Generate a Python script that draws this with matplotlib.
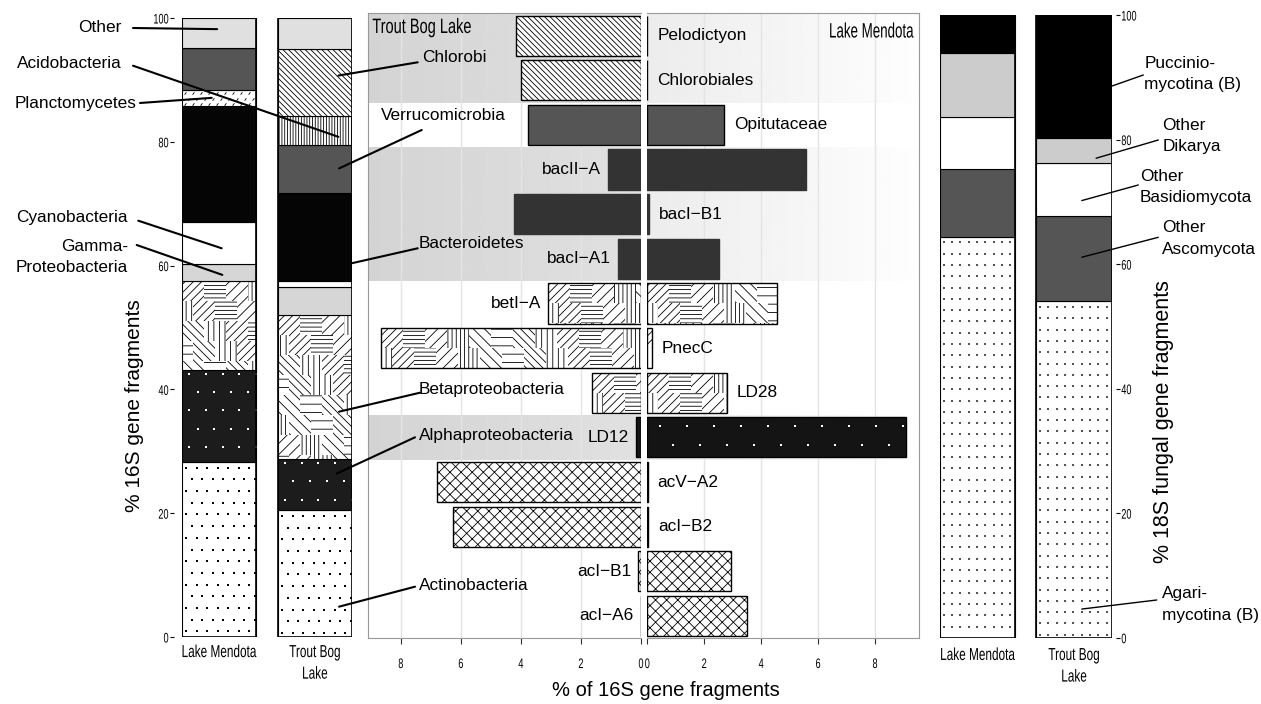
import numpy as np
import matplotlib
matplotlib.use("Agg")
import matplotlib.pyplot as plt
from matplotlib import patheffects
from matplotlib.markers import MarkerStyle
from matplotlib.patches import ConnectionPatch, Rectangle
from matplotlib.transforms import Affine2D, offset_copy

plt.rcParams["font.family"] = ["Liberation Sans", "DejaVu Sans"]
plt.rcParams["hatch.linewidth"] = 0.6

# ------------------------------------------------------------------ data
lakes = ["Lake Mendota", "Trout Bog\nLake"]
pct_ticks = [0, 20, 40, 60, 80, 100]

# 16S phylum composition, bottom to top of each stacked bar (% of fragments)
bact_groups = ["Actinobacteria", "Alphaproteobacteria", "Betaproteobacteria",
               "Gammaproteobacteria", "Cyanobacteria", "Bacteroidetes",
               "Planctomycetes", "Verrucomicrobia", "Acidobacteria",
               "Chlorobi", "Other"]
bact_mendota = [28.3, 14.8, 14.4, 2.7, 6.9, 18.7, 2.5, 6.8, 0.0, 0.0, 4.9]
bact_troutbog = [20.5, 8.2, 23.3, 4.6, 0.9, 14.2, 0.0, 7.8, 4.7, 10.8, 5.0]

# 18S fungal composition, bottom to top
fungal_groups = ["Agaricomycotina", "Other Ascomycota", "Other Basidiomycota",
                 "Other Dikarya", "Pucciniomycotina"]
fungi_mendota = [64.4, 10.9, 8.3, 10.3, 6.1]
fungi_troutbog = [54.0, 13.7, 8.6, 3.9, 19.8]

# freshwater lineages, top to bottom of the middle panel
lineages = ["Pelodictyon", "Chlorobiales", "Opitutaceae", "bacII\u2212A",
            "bacI\u2212B1", "bacI\u2212A1", "betI\u2212A", "PnecC", "LD28", "LD12",
            "acV\u2212A2", "acI\u2212B2", "acI\u2212B1", "acI\u2212A6"]
lineage_phylum = ["Chlorobi", "Chlorobi", "Verrucomicrobia",
                  "Bacteroidetes", "Bacteroidetes", "Bacteroidetes",
                  "Betaproteobacteria", "Betaproteobacteria", "Betaproteobacteria",
                  "Alphaproteobacteria",
                  "Actinobacteria", "Actinobacteria", "Actinobacteria", "Actinobacteria"]
lineage_troutbog = [4.16, 4.00, 3.78, 1.10, 4.22, 0.77, 3.10, 8.65, 1.63, 0.16,
                    6.80, 6.26, 0.09, 0.00]
lineage_mendota = [0.00, 0.00, 2.69, 5.59, 0.05, 2.52, 4.54, 0.15, 2.79, 9.10,
                   0.01, 0.03, 2.93, 3.51]
lineage_ticks = [0, 2, 4, 6, 8]

# ------------------------------------------------------------------ styles
BACK6 = "\\" * 6
bact_style = {
    "Actinobacteria": dict(fc="white", texture="dots"),
    "Alphaproteobacteria": dict(fc="#1c1c1c", texture="white_dots"),
    "Betaproteobacteria": dict(fc="white", texture="beta"),
    "Gammaproteobacteria": dict(fc="#d6d6d6"),
    "Cyanobacteria": dict(fc="white"),
    "Bacteroidetes": dict(fc="#050505"),
    "Planctomycetes": dict(fc="white", texture="dashes"),
    "Verrucomicrobia": dict(fc="#555555"),
    "Acidobacteria": dict(fc="white", hatch="||||||"),
    "Chlorobi": dict(fc="white", hatch=BACK6),
    "Other": dict(fc="#e0e0e0"),
}
fungal_style = {
    "Agaricomycotina": dict(fc="white", texture="fine_dots"),
    "Other Ascomycota": dict(fc="#555555"),
    "Other Basidiomycota": dict(fc="white"),
    "Other Dikarya": dict(fc="#cccccc"),
    "Pucciniomycotina": dict(fc="black"),
}
lineage_style = {
    "Chlorobi": dict(fc="white", ec="black", hatch=BACK6),
    "Verrucomicrobia": dict(fc="#555555", ec="black"),
    "Bacteroidetes": dict(fc="#333333", ec="#333333"),
    "Betaproteobacteria": dict(fc="white", ec="black", texture="beta"),
    "Alphaproteobacteria": dict(fc="#141414", ec="black", texture="white_dots_wide"),
    "Actinobacteria": dict(fc="white", ec="black", hatch="xxx"),
}
# lineage names printed on the Trout Bog side of the middle panel
LEFT_LABELS = {"bacII\u2212A", "bacI\u2212A1", "betI\u2212A", "LD12",
               "acI\u2212B1", "acI\u2212A6"}

LABEL_PT = 12.4                     # callout and lineage names
TICK_PT, TICK_SX = 10, 0.66         # condensed tick numbers

W, H = 1261, 704
fig = plt.figure(figsize=(W / 100, H / 100), dpi=100)


def _squash(text, sx):
    x0, y0 = text.get_transform().transform(text.get_unitless_position())
    rot = text.get_rotation()
    return (Affine2D().translate(-x0, -y0).rotate_deg(-rot)
            .scale(sx, 1.0).rotate_deg(rot).translate(x0, y0))


class Squeeze(patheffects.AbstractPathEffect):
    """Draw a text condensed along its baseline about its anchor point."""

    def __init__(self, text, sx):
        super().__init__()
        self._text = text
        self._sx = sx

    def draw_path(self, renderer, gc, tpath, affine, rgbFace=None):
        renderer.draw_path(gc, tpath, affine + _squash(self._text, self._sx), rgbFace)


def squeeze(text, sx):
    """Condense a text and report the condensed box as its extent."""
    text.set_path_effects([Squeeze(text, sx)])
    full_extent = text.get_window_extent

    def condensed_extent(renderer=None, dpi=None):
        return full_extent(renderer, dpi).transformed(_squash(text, sx))

    text.get_window_extent = condensed_extent
    return text


def axes_px(x0, y0, x1, y1):
    return fig.add_axes([x0 / W, 1 - y1 / H, (x1 - x0) / W, (y1 - y0) / H])


def fig_xy(x, y):
    return (x / W, 1 - y / H)


def ftext(x, y, s, size=LABEL_PT, ha="left", va="center", **kw):
    return fig.text(x / W, 1 - y / H, s, fontsize=size, ha=ha, va=va, **kw)


# ------------------------------------------------------------------ textures
BETA_HATCHES = ["////", "||||", "\\" * 4, "----", "\\" * 3, "|||", "///", "--"]


def beta_texture(ax, patch, tw=22.0, th=20.0):
    bb = patch.get_window_extent()
    inv = ax.transData.inverted()
    j = 0
    y = bb.y1
    while y > bb.y0:
        i = 0
        x = bb.x0 - (tw / 2 if j % 2 else 0)
        while x < bb.x1:
            h = BETA_HATCHES[(3 * i + 5 * j) % len(BETA_HATCHES)]
            (xa, ya), (xb, yb) = inv.transform([(x, y - th), (x + tw, y)])
            r = Rectangle((min(xa, xb), min(ya, yb)), abs(xb - xa), abs(yb - ya),
                          facecolor="none", edgecolor="black", linewidth=0,
                          hatch=h, zorder=patch.get_zorder() + 0.1)
            ax.add_patch(r)
            r.set_clip_path(patch)
            x += tw
            i += 1
        y -= th
        j += 1


def scatter_texture(ax, patch, dx, dy, color, size, marker="s", lw=0.0,
                    stagger=0.5, ox=0.45, oy=0.5):
    bb = patch.get_window_extent()
    pts = []
    j = 0
    y = bb.y1 - oy * dy
    while y > bb.y0:
        x = bb.x0 + (ox + (stagger if j % 2 else 0.0)) * dx
        while x < bb.x1:
            pts.append((x, y))
            x += dx
        y -= dy
        j += 1
    if not pts:
        return
    d = ax.transData.inverted().transform(np.array(pts))
    sc = ax.scatter(d[:, 0], d[:, 1], s=size, marker=marker, c=color,
                    linewidths=lw, zorder=patch.get_zorder() + 0.1)
    sc.set_clip_path(patch)


DASH = MarkerStyle("|", transform=Affine2D().rotate_deg(-35))


def apply_texture(ax, patch, kind):
    if kind == "beta":
        beta_texture(ax, patch)
    elif kind == "dots":
        scatter_texture(ax, patch, 10.5, 11.7, "black", 0.7)
    elif kind == "fine_dots":
        scatter_texture(ax, patch, 8.3, 11.3, "#555555", 1.3, stagger=0.0)
    elif kind == "white_dots":
        scatter_texture(ax, patch, 16.7, 18.3, "white", 2.5, oy=0.2)
    elif kind == "white_dots_wide":
        scatter_texture(ax, patch, 27.0, 18.3, "white", 2.5, ox=0.47)
    elif kind == "dashes":
        scatter_texture(ax, patch, 8.0, 5.5, "black", 5, marker=DASH, lw=0.6)


# ------------------------------------------------------------------ stacked bars
BAR_W = 0.78


def draw_stack(ax, groups, columns, styles):
    values = np.array(columns, dtype=float)
    xpos = np.arange(values.shape[0])
    bottoms = np.zeros(values.shape[0])
    for gi, g in enumerate(groups):
        st = styles[g]
        bars = ax.bar(xpos, values[:, gi], bottom=bottoms, width=BAR_W,
                      color=st["fc"], edgecolor="black", linewidth=0.8,
                      hatch=st.get("hatch"), zorder=2)
        if st.get("texture"):
            for rect, v in zip(bars, values[:, gi]):
                if v > 0:
                    apply_texture(ax, rect, st["texture"])
        bottoms += values[:, gi]
    ax.bar(xpos, bottoms, width=BAR_W, fill=False, edgecolor="black",
           linewidth=1.2, zorder=3)


def setup_stack_axes(ax, side, outward, pad_x):
    half = BAR_W / 2
    ax.set_xlim(-half, 1 + half)
    ax.set_ylim(0, 100)
    for s in ax.spines.values():
        s.set_visible(False)
    ax.spines[side].set_position(("outward", outward))
    ax.set_yticks(pct_ticks)
    ax.set_yticklabels([str(t) for t in pct_ticks])
    if side == "right":
        ax.yaxis.tick_right()
    ax.tick_params(axis="y", length=2.8, width=0.8, pad=1.0, labelsize=TICK_PT)
    ax.set_xticks([0, 1])
    ax.set_xticklabels(lakes)
    ax.tick_params(axis="x", length=0, pad=pad_x, labelsize=12.5)
    for lbl in ax.get_yticklabels():
        squeeze(lbl, TICK_SX)
    for lbl in ax.get_xticklabels():
        lbl.set_linespacing(1.55)
        squeeze(lbl, 0.68)
    ax.patch.set_visible(False)


ax16 = axes_px(181.7, 18.0, 352.3, 637.0)
setup_stack_axes(ax16, "left", 5.6, 5.8)
draw_stack(ax16, bact_groups, [bact_mendota, bact_troutbog], bact_style)

ax18 = axes_px(940.0, 15.0, 1111.7, 637.7)
setup_stack_axes(ax18, "right", 3.1, 7.4)
draw_stack(ax18, fungal_groups, [fungi_mendota, fungi_troutbog], fungal_style)

# ------------------------------------------------------------------ middle panel
n = len(lineages)
rows = np.arange(n)
axL = axes_px(368.3, 13.3, 641.0, 638.3)
axR = axes_px(647.3, 13.3, 919.3, 638.3)
limL = 1.05 * max(lineage_troutbog)
limR = 1.05 * max(lineage_mendota)

# alternating shaded bands, one per phylum
runs = []
start = 0
for i in range(1, n + 1):
    if i == n or lineage_phylum[i] != lineage_phylum[start]:
        runs.append((start, i - 1))
        start = i
grey_runs = runs[0::2]


def shade(ax, xlim, g0, g1):
    img = np.tile(np.linspace(g0, g1, 200), (2, 1))
    for r0, r1 in grey_runs:
        ax.imshow(img, cmap="gray", vmin=0, vmax=1,
                  extent=(xlim[0], xlim[1], r1 + 0.5, r0 - 0.5),
                  aspect="auto", interpolation="bilinear", zorder=0)


for ax, xlim, g0, g1, values in ((axL, (limL, 0), 0.83, 0.88, lineage_troutbog),
                                 (axR, (0, limR), 0.925, 0.995, lineage_mendota)):
    shade(ax, xlim, g0, g1)
    ax.set_xlim(*xlim)
    ax.set_ylim(n - 0.5, -0.5)
    ax.set_axisbelow(True)
    ax.grid(axis="x", color="#e4e4e4", linewidth=1.0)
    ax.set_yticks([])
    ax.set_xticks(lineage_ticks)
    ax.set_xticklabels([str(t) for t in lineage_ticks])
    ax.tick_params(axis="x", length=4, width=0.8, color="#333333", pad=9.5,
                   labelsize=10)
    for lbl in ax.get_xticklabels():
        squeeze(lbl, TICK_SX)
    for s in ax.spines.values():
        s.set_color("#999999")
        s.set_linewidth(0.8)
    for i, ph in enumerate(lineage_phylum):
        st = lineage_style[ph]
        bar = ax.barh(rows[i], values[i], height=0.9, color=st["fc"],
                      edgecolor=st["ec"], linewidth=1.0, hatch=st.get("hatch"),
                      zorder=2)[0]
        if st.get("texture") and values[i] > 0:
            apply_texture(ax, bar, st["texture"])

axL.spines["right"].set_visible(False)
axR.spines["left"].set_visible(False)

# lineage names beside the shorter bar
for i, name in enumerate(lineages):
    if name in LEFT_LABELS:
        tr = offset_copy(axL.transData, fig=fig, x=-7, y=0, units="dots")
        axL.text(lineage_troutbog[i], rows[i], name, transform=tr,
                 ha="right", va="center", fontsize=LABEL_PT, zorder=4)
    else:
        tr = offset_copy(axR.transData, fig=fig, x=10, y=0, units="dots")
        axR.text(lineage_mendota[i], rows[i], name, transform=tr,
                 ha="left", va="center", fontsize=LABEL_PT, zorder=4)

squeeze(ftext(372.3, 27.5, "Trout Bog Lake", size=15), 0.70)
squeeze(ftext(914.0, 32.0, "Lake Mendota", size=15, ha="right"), 0.64)

# ------------------------------------------------------------------ callouts
# (text, text anchor px, alignment, leader start px, bar anchor (x, %))
bact_callouts = [
    ("Other", (121, 27.7), "right", (133, 28), (-0.02, 98.2)),
    ("Acidobacteria", (122, 63.3), "right", (133, 65.7), (1.245, 80.8)),
    ("Planctomycetes", (136, 103.3), "right", (140, 103), (-0.077, 87.1)),
    ("Cyanobacteria", (128, 217.3), "right", (138.3, 220.7), (0.027, 62.8)),
    ("Gamma-\nProteobacteria", (128, 257), "right", (136.7, 245), (0.034, 58.5)),
    ("Chlorobi", (422.3, 57.7), "left", (417.7, 62.3), (1.245, 90.7)),
    ("Verrucomicrobia", (381, 115.7), "left", (421.7, 130), (1.252, 75.7)),
    ("Bacteroidetes", (419, 243.3), "left", (417.7, 248.3), (1.39, 60.4)),
    ("Betaproteobacteria", (419, 389), "left", (420, 392.7), (1.252, 36.4)),
    ("Alphaproteobacteria", (419, 436), "left", (415, 437.3), (1.228, 26.4)),
    ("Actinobacteria", (419, 585), "left", (415, 586.7), (1.252, 4.9)),
]
fungal_callouts = [
    ("Puccinio-\nmycotina (B)", (1144.3, 74), "left", (1143.3, 75), (1.394, 88.6)),
    ("Other\nDikarya", (1162.3, 136), "left", (1158.3, 140), (1.228, 77.0)),
    ("Other\nBasidiomycota", (1140, 187), "left", (1138.3, 185), (1.08, 70.2)),
    ("Other\nAscomycota", (1162.3, 238.8), "left", (1158.3, 237.3), (1.08, 61.1)),
    ("Agari-\nmycotina (B)", (1161.7, 604.5), "left", (1156.7, 600), (1.08, 4.6)),
]

for ax, callouts, lw in ((ax16, bact_callouts, 1.5), (ax18, fungal_callouts, 1.0)):
    for text, (tx, ty), ha, (lx, ly), anchor in callouts:
        ftext(tx, ty, text, ha=ha, linespacing=1.55)
        cp = ConnectionPatch(xyA=fig_xy(lx, ly), coordsA="figure fraction",
                             xyB=anchor, coordsB=ax.transData,
                             color="black", linewidth=lw, zorder=5)
        fig.add_artist(cp)

# ------------------------------------------------------------------ axis titles
fig.text(*fig_xy(135, 405.5), "% 16S gene fragments", rotation=90,
         ha="center", va="center", fontsize=15)
fig.text(*fig_xy(1164, 422), "% 18S fungal gene fragments", rotation=90,
         ha="center", va="center", fontsize=15.5)
fig.text(*fig_xy(666, 690), "% of 16S gene fragments", ha="center",
         va="center", fontsize=14.5)

fig.savefig("out.png", dpi=100)
